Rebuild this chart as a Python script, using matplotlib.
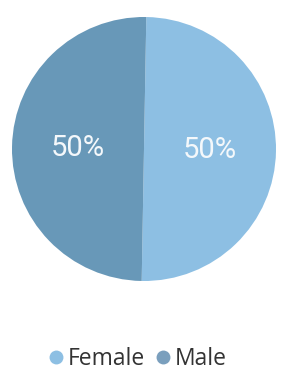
import matplotlib
matplotlib.use("Agg")
import matplotlib.pyplot as plt
from matplotlib.lines import Line2D

categories = ["Female", "Male"]
values = [50, 50]
colors = ["#8dbfe3", "#6898b8"]
legend_colors = ["#8dbfe3", "#7a9fbd"]

W, H = 297, 376
fig = plt.figure(figsize=(W / 100, H / 100), dpi=100)
cx, cy, r = 144, 149, 132
ax = fig.add_axes([(cx - r) / W, (H - cy - r) / H, 2 * r / W, 2 * r / H])
wedges, texts, autotexts = ax.pie(
    values, colors=colors, startangle=89, counterclock=False,
    autopct="%d%%", pctdistance=0.5, radius=1,
    textprops=dict(color="#f4f8fb", fontsize=21, family="Roboto"),
    wedgeprops=dict(linewidth=0),
)
ax.set_xlim(-1, 1)
ax.set_ylim(-1, 1)
ax.set_aspect("equal")
ax.axis("off")

handles = [Line2D([0], [0], marker="o", linestyle="none", markersize=10,
                  markerfacecolor=c, markeredgewidth=0) for c in legend_colors]
fig.legend(handles, categories, loc="center", bbox_to_anchor=(0.465, (H - 359) / H),
           ncol=2, frameon=False, handlelength=0.6, handletextpad=0.2,
           columnspacing=0.5, prop=dict(family="Open Sans", size=16.5),
           labelcolor="#333333")

fig.savefig("out.png", dpi=100, facecolor="white")
